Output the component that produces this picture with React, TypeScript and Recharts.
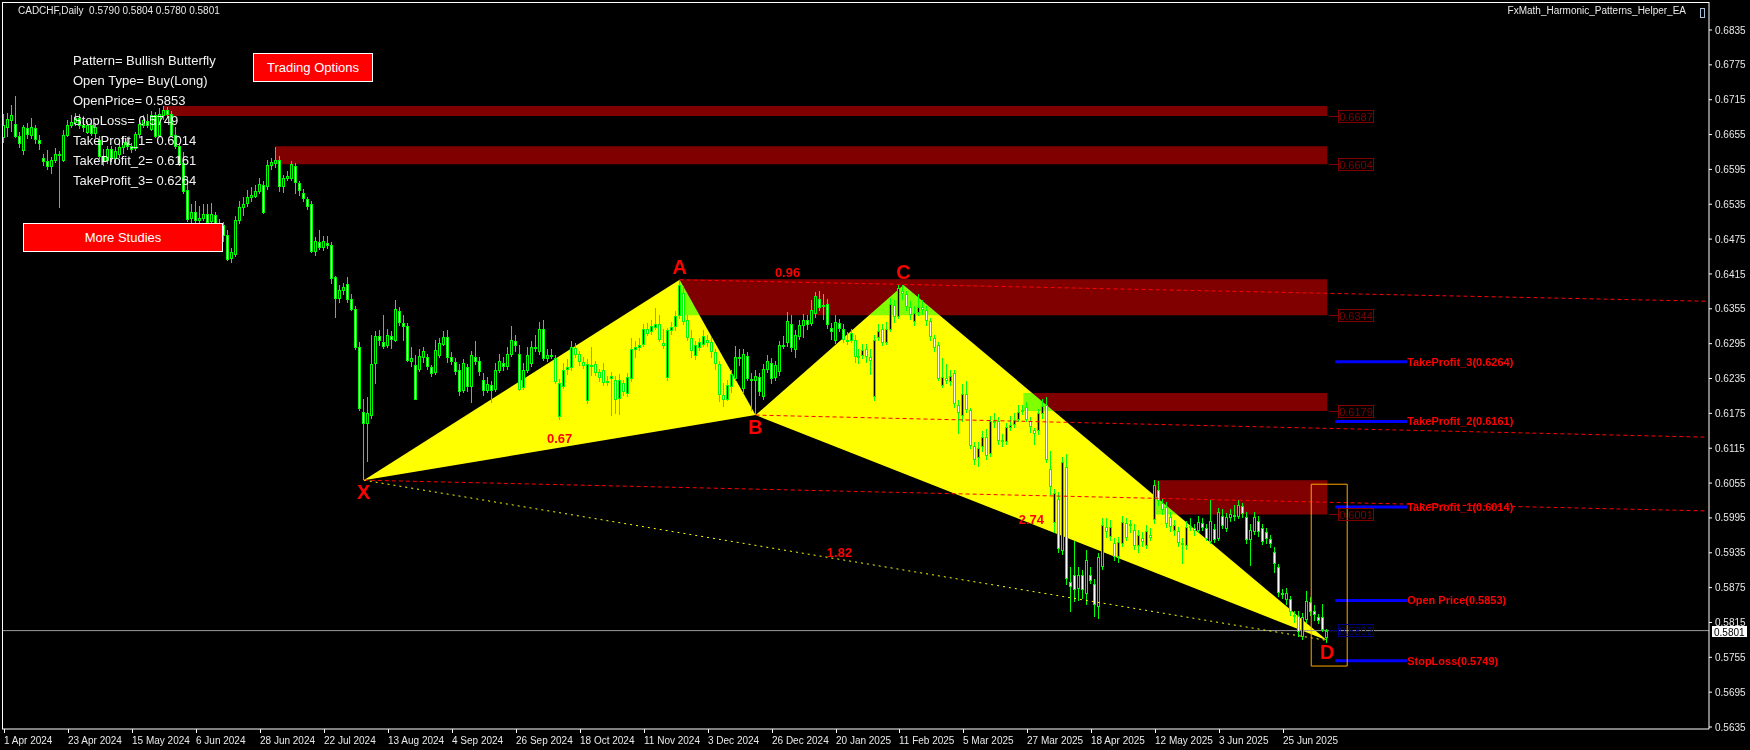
import React from "react";
import { ComposedChart, Bar, Scatter, XAxis, YAxis, ReferenceArea, ReferenceLine } from "recharts";

// CADCHF daily bars, prices in pips (x 0.0001)
const opens = [
  6650, 6668, 6680, 6674, 6652, 6628, 6666, 6655, 6666, 6645,
  6614, 6610, 6600, 6611, 6620, 6612, 6654, 6671, 6676, 6683,
  6672, 6660, 6672, 6658, 6646, 6618, 6611, 6630, 6615, 6622,
  6634, 6642, 6636, 6632, 6656, 6672, 6678, 6665, 6688, 6654,
  6688, 6697, 6690, 6655, 6636, 6606, 6560, 6512, 6522, 6508,
  6512, 6518, 6506, 6516, 6498, 6500, 6482, 6442, 6450, 6508,
  6530, 6537, 6547, 6550, 6558, 6568, 6566, 6603, 6606, 6611,
  6566, 6581, 6580, 6601, 6572, 6555, 6544, 6536, 6455, 6470,
  6462, 6468, 6465, 6410, 6373, 6387, 6398, 6372, 6355, 6290,
  6178, 6158, 6172, 6262, 6308, 6298, 6292, 6308, 6302, 6352,
  6330, 6325, 6266, 6258, 6252, 6272, 6272, 6254, 6247, 6276,
  6294, 6307, 6272, 6264, 6250, 6215, 6254, 6222, 6272, 6266,
  6232, 6215, 6224, 6217, 6250, 6262, 6256, 6278, 6300, 6278,
  6220, 6250, 6262, 6290, 6282, 6320, 6270, 6276, 6270, 6170,
  6222, 6252, 6254, 6288, 6277, 6264, 6198, 6259, 6260, 6246,
  6250, 6229, 6236, 6232, 6201, 6227, 6210, 6236, 6285, 6290,
  6294, 6320, 6317, 6324, 6328, 6296, 6238, 6318, 6325, 6344,
  6382, 6336, 6304, 6276, 6290, 6294, 6302, 6298, 6281, 6260,
  6206, 6199, 6222, 6236, 6272, 6218, 6273, 6235, 6232, 6238,
  6205, 6252, 6262, 6238, 6248, 6292, 6297, 6328, 6286, 6308,
  6327, 6336, 6331, 6348, 6372, 6360, 6364, 6322, 6302, 6330,
  6320, 6302, 6302, 6302, 6274, 6276, 6285, 6272, 6205, 6306,
  6320, 6298, 6321, 6362, 6342, 6386, 6380, 6358, 6334, 6350,
  6358, 6353, 6334, 6304, 6292, 6224, 6236, 6230, 6244, 6190,
  6173, 6208, 6180, 6118, 6100, 6118, 6135, 6106, 6162, 6162,
  6130, 6127, 6152, 6156, 6165, 6180, 6186, 6162, 6146, 6146,
  6175, 6189, 6080, 5988, 6027, 5940, 6082, 5885, 5896, 5874,
  5897, 5866, 5897, 5882, 5844, 5912, 5980, 5964, 5952, 5929,
  5952, 5986, 5982, 5974, 5949, 5960, 5948, 5966, 5993, 6043,
  6020, 6014, 5996, 5975, 5972, 5952, 5949, 5980, 5978, 5975,
  5986, 5977, 5956, 5976, 5960, 5998, 5978, 5996, 6000, 5998,
  6016, 5996, 5958, 5972, 5990, 5978, 5970, 5958, 5936, 5910,
  5866, 5855, 5855, 5828, 5826, 5791, 5821, 5851, 5834, 5825,
  5825, 5790,
];
const highs = [
  6690, 6692, 6706, 6722, 6660, 6672, 6675, 6683, 6672, 6655,
  6622, 6628, 6617, 6631, 6626, 6663, 6680, 6688, 6692, 6690,
  6680, 6678, 6680, 6675, 6652, 6630, 6636, 6635, 6634, 6640,
  6650, 6650, 6640, 6660, 6680, 6688, 6690, 6695, 6693, 6700,
  6704, 6703, 6695, 6668, 6640, 6625, 6582, 6535, 6540, 6532,
  6535, 6535, 6538, 6522, 6510, 6505, 6490, 6460, 6515, 6540,
  6548, 6560, 6565, 6568, 6580, 6575, 6612, 6615, 6634, 6618,
  6586, 6592, 6610, 6606, 6575, 6562, 6548, 6540, 6478, 6490,
  6480, 6480, 6470, 6412, 6396, 6400, 6410, 6380, 6360, 6298,
  6200, 6204, 6310, 6316, 6318, 6344, 6320, 6316, 6370, 6358,
  6345, 6330, 6290, 6275, 6285, 6290, 6278, 6258, 6302, 6305,
  6316, 6318, 6280, 6270, 6260, 6268, 6260, 6282, 6300, 6272,
  6245, 6238, 6230, 6262, 6278, 6272, 6290, 6325, 6310, 6292,
  6262, 6290, 6300, 6310, 6332, 6335, 6285, 6285, 6276, 6235,
  6262, 6268, 6300, 6296, 6283, 6272, 6268, 6290, 6266, 6252,
  6262, 6240, 6246, 6240, 6242, 6232, 6245, 6305, 6300, 6305,
  6328, 6330, 6335, 6356, 6345, 6320, 6322, 6332, 6352, 6405,
  6395, 6345, 6318, 6300, 6305, 6318, 6310, 6306, 6286, 6266,
  6228, 6232, 6250, 6291, 6285, 6285, 6280, 6245, 6250, 6244,
  6260, 6276, 6270, 6265, 6300, 6308, 6350, 6345, 6318, 6335,
  6346, 6345, 6370, 6384, 6385, 6380, 6372, 6330, 6345, 6338,
  6328, 6315, 6320, 6310, 6285, 6295, 6295, 6285, 6310, 6328,
  6328, 6332, 6374, 6370, 6396, 6396, 6385, 6368, 6360, 6380,
  6370, 6360, 6340, 6310, 6298, 6270, 6260, 6250, 6250, 6198,
  6225, 6230, 6185, 6125, 6125, 6145, 6148, 6170, 6175, 6168,
  6140, 6158, 6170, 6175, 6190, 6190, 6195, 6168, 6150, 6182,
  6200, 6204, 6110, 6045, 6040, 6100, 6105, 5910, 5955, 5910,
  5905, 5940, 5910, 5890, 5935, 5995, 5995, 5992, 5960, 5962,
  5998, 5995, 5992, 5985, 5975, 5970, 5982, 5978, 6060, 6058,
  6030, 6022, 6005, 5992, 5980, 5960, 5990, 5995, 5985, 5998,
  5995, 5985, 6025, 5985, 6012, 6010, 6003, 6010, 6018, 6025,
  6020, 6005, 5985, 6005, 5998, 5985, 5978, 5965, 5945, 5916,
  5872, 5875, 5860, 5835, 5835, 5832, 5870, 5858, 5845, 5830,
  5846, 5804,
];
const lows = [
  6640, 6650, 6660, 6650, 6632, 6620, 6648, 6646, 6640, 6630,
  6602, 6594, 6588, 6605, 6528, 6608, 6650, 6665, 6670, 6665,
  6660, 6655, 6652, 6650, 6612, 6600, 6605, 6608, 6606, 6615,
  6620, 6628, 6622, 6628, 6650, 6665, 6666, 6660, 6648, 6650,
  6680, 6684, 6650, 6630, 6600, 6552, 6505, 6500, 6500, 6498,
  6505, 6498, 6500, 6490, 6488, 6470, 6436, 6435, 6445, 6500,
  6515, 6530, 6540, 6545, 6552, 6518, 6560, 6595, 6598, 6556,
  6555, 6575, 6575, 6553, 6550, 6540, 6525, 6450, 6445, 6455,
  6455, 6458, 6398, 6340, 6365, 6380, 6366, 6350, 6285, 6180,
  6060, 6092, 6165, 6224, 6290, 6285, 6288, 6285, 6298, 6325,
  6300, 6262, 6255, 6197, 6245, 6262, 6250, 6238, 6242, 6270,
  6290, 6262, 6258, 6240, 6205, 6210, 6212, 6192, 6258, 6240,
  6205, 6210, 6192, 6212, 6245, 6248, 6250, 6272, 6280, 6212,
  6215, 6245, 6256, 6280, 6275, 6265, 6262, 6268, 6226, 6165,
  6218, 6240, 6248, 6270, 6258, 6252, 6190, 6240, 6240, 6230,
  6222, 6222, 6170, 6175, 6172, 6205, 6203, 6230, 6270, 6282,
  6288, 6308, 6310, 6318, 6298, 6285, 6230, 6310, 6318, 6338,
  6328, 6300, 6270, 6268, 6282, 6288, 6290, 6270, 6250, 6195,
  6186, 6195, 6210, 6230, 6255, 6210, 6230, 6180, 6172, 6205,
  6198, 6245, 6225, 6230, 6240, 6285, 6290, 6282, 6270, 6300,
  6305, 6320, 6325, 6340, 6350, 6335, 6320, 6300, 6295, 6315,
  6295, 6292, 6296, 6262, 6260, 6270, 6262, 6240, 6196, 6298,
  6290, 6292, 6315, 6330, 6338, 6370, 6350, 6335, 6325, 6342,
  6345, 6325, 6300, 6280, 6230, 6218, 6225, 6222, 6185, 6140,
  6160, 6175, 6115, 6085, 6082, 6108, 6095, 6100, 6150, 6120,
  6118, 6120, 6145, 6150, 6160, 6172, 6160, 6140, 6120, 6138,
  6165, 6090, 6035, 5970, 5935, 5932, 5880, 5832, 5850, 5852,
  5855, 5845, 5880, 5825, 5822, 5905, 5960, 5955, 5920, 5918,
  5945, 5955, 5970, 5940, 5935, 5945, 5940, 5955, 5985, 6015,
  6000, 5978, 5970, 5965, 5945, 5915, 5940, 5972, 5965, 5968,
  5972, 5955, 5950, 5952, 5955, 5975, 5970, 5988, 5990, 5992,
  5995, 5950, 5912, 5965, 5962, 5948, 5950, 5942, 5900, 5860,
  5855, 5845, 5826, 5815, 5790, 5785, 5815, 5825, 5818, 5812,
  5798, 5780,
];
const closes = [
  6672, 6682, 6688, 6652, 6640, 6668, 6656, 6668, 6647, 6640,
  6609, 6600, 6611, 6622, 6622, 6654, 6671, 6677, 6683, 6672,
  6668, 6671, 6658, 6668, 6618, 6610, 6630, 6615, 6627, 6634,
  6642, 6636, 6630, 6656, 6673, 6680, 6672, 6688, 6652, 6690,
  6697, 6690, 6655, 6636, 6606, 6558, 6510, 6522, 6508, 6512,
  6518, 6505, 6518, 6498, 6500, 6482, 6440, 6452, 6508, 6530,
  6536, 6548, 6551, 6557, 6570, 6522, 6603, 6607, 6612, 6566,
  6580, 6584, 6604, 6573, 6560, 6546, 6532, 6454, 6472, 6462,
  6472, 6465, 6408, 6373, 6387, 6392, 6372, 6354, 6290, 6185,
  6158, 6176, 6260, 6308, 6301, 6291, 6310, 6303, 6354, 6332,
  6325, 6267, 6270, 6200, 6273, 6282, 6256, 6245, 6284, 6296,
  6306, 6272, 6265, 6248, 6213, 6262, 6222, 6276, 6265, 6248,
  6215, 6226, 6216, 6250, 6266, 6256, 6278, 6302, 6292, 6217,
  6250, 6275, 6290, 6288, 6320, 6271, 6276, 6274, 6230, 6228,
  6250, 6254, 6290, 6278, 6265, 6259, 6260, 6257, 6246, 6237,
  6229, 6231, 6240, 6200, 6233, 6214, 6238, 6285, 6290, 6292,
  6320, 6314, 6325, 6328, 6303, 6292, 6318, 6323, 6342, 6396,
  6334, 6306, 6284, 6292, 6297, 6308, 6298, 6282, 6262, 6208,
  6200, 6224, 6243, 6272, 6270, 6277, 6236, 6232, 6240, 6214,
  6252, 6266, 6236, 6258, 6292, 6293, 6334, 6290, 6310, 6327,
  6336, 6328, 6353, 6377, 6358, 6362, 6328, 6317, 6332, 6322,
  6303, 6300, 6313, 6273, 6273, 6284, 6273, 6267, 6302, 6316,
  6298, 6320, 6364, 6342, 6390, 6383, 6360, 6346, 6348, 6358,
  6354, 6336, 6308, 6290, 6236, 6238, 6232, 6240, 6193, 6178,
  6208, 6182, 6120, 6097, 6115, 6135, 6104, 6162, 6160, 6130,
  6127, 6151, 6155, 6163, 6178, 6181, 6166, 6153, 6141, 6176,
  6188, 6096, 6050, 6038, 5943, 6092, 5892, 5878, 5872, 5897,
  5872, 5922, 5888, 5846, 5928, 5982, 5972, 5979, 5929, 5953,
  5988, 5962, 5985, 5948, 5965, 5955, 5973, 5963, 6052, 6025,
  6010, 5987, 5981, 5983, 5953, 5950, 5980, 5981, 5974, 5988,
  5980, 5961, 5989, 5959, 6005, 5982, 5996, 6002, 5998, 6018,
  6003, 5959, 5974, 5996, 5972, 5955, 5961, 5951, 5918, 5867,
  5865, 5866, 5834, 5826, 5800, 5825, 5852, 5834, 5829, 5819,
  5804, 5801,
];

const dateTickIdx = [0, 16, 32, 48, 64, 80, 96, 112, 128, 144, 160, 176, 192, 208, 224, 240, 256, 272, 288, 304, 320];
const dateLabels = [
  "1 Apr 2024", "23 Apr 2024", "15 May 2024", "6 Jun 2024", "28 Jun 2024", "22 Jul 2024", "13 Aug 2024",
  "4 Sep 2024", "26 Sep 2024", "18 Oct 2024", "11 Nov 2024", "3 Dec 2024", "26 Dec 2024", "20 Jan 2025",
  "11 Feb 2025", "5 Mar 2025", "27 Mar 2025", "18 Apr 2025", "12 May 2025", "3 Jun 2025", "25 Jun 2025",
];
const priceTicks = [
  0.5635, 0.5695, 0.5755, 0.5815, 0.5875, 0.5935, 0.5995, 0.6055, 0.6115, 0.6175, 0.6235,
  0.6295, 0.6355, 0.6415, 0.6475, 0.6535, 0.6595, 0.6655, 0.6715, 0.6775, 0.6835,
];

// harmonic pattern
const xabPoints = [{ i: 90, p: 0.606 }, { i: 169, p: 0.6405 }, { i: 188, p: 0.6172 }];
const bcdPoints = [{ i: 188, p: 0.6172 }, { i: 225, p: 0.6396 }, { i: 331, p: 0.5784 }];
const pointNames = [
  { t: "X", i: 90, p: 0.606, up: false },
  { t: "A", i: 169, p: 0.6405, up: true },
  { t: "B", i: 188, p: 0.6172, up: false },
  { t: "C", i: 225, p: 0.6396, up: true },
  { t: "D", i: 331, p: 0.5784, up: false },
];
const ratioLabels = [
  { t: "0.67", i: 139, p: 0.6131 },
  { t: "0.96", i: 196, p: 0.6417 },
  { t: "1.82", i: 209, p: 0.5935 },
  { t: "2.74", i: 257, p: 0.5993 },
];
const redRays = [
  [{ i: 169, p: 0.6405 }, { i: 426, p: 0.6368 }],
  [{ i: 188, p: 0.6172 }, { i: 426, p: 0.6134 }],
  [{ i: 90, p: 0.606 }, { i: 426, p: 0.6007 }],
];
const xdLine = [{ i: 90, p: 0.606 }, { i: 331, p: 0.5784 }];

// supply zones
const zones = [
  { from: 40, to: 331, top: 0.6704, bottom: 0.6687 },
  { from: 68, to: 331, top: 0.6635, bottom: 0.6604 },
  { from: 169, to: 331, top: 0.6406, bottom: 0.6344 },
  { from: 255, to: 331, top: 0.621, bottom: 0.6179 },
  { from: 288, to: 331, top: 0.606, bottom: 0.6001 },
];
const zoneTags = zones.map((z) => ({ i: z.to, p: z.bottom }));
const dTag = [{ i: 331, p: 0.5802 }];

const tpLevels = [
  { name: "TakeProfit_3", p: 0.6264 },
  { name: "TakeProfit_2", p: 0.6161 },
  { name: "TakeProfit_1", p: 0.6014 },
  { name: "Open Price", p: 0.5853 },
  { name: "StopLoss", p: 0.5749 },
];
const tpStart = 333;
const tpEnd = 351;
const tpTexts = tpLevels.map((l) => ({ i: tpEnd, p: l.p, t: `${l.name}(${l.p.toFixed(4)})` }));
const entryBox = { x1: 327, x2: 336, y1: 0.574, y2: 0.6053 };

const lastBar = { o: 0.579, h: 0.5804, l: 0.578, c: 0.5801 };
const lastTag = [{ i: 426.5, p: lastBar.c }];

const infoLines = [
  "Pattern= Bullish Butterfly",
  "Open Type= Buy(Long)",
  "OpenPrice= 0.5853",
  "StopLoss= 0.5749",
  "TakeProfit_1= 0.6014",
  "TakeProfit_2= 0.6161",
  "TakeProfit_3= 0.6264",
];

const candles = opens.map((o, k) => ({
  i: k,
  o: o / 1e4,
  h: highs[k] / 1e4,
  l: lows[k] / 1e4,
  c: closes[k] / 1e4,
  range: [lows[k] / 1e4, highs[k] / 1e4],
}));

const FONT = "'Liberation Sans', Arial, sans-serif";
const RED = "#ff0000";
const MAROON = "#800000";

const Candle = (props: any) => {
  const { x, y, width, height, payload } = props;
  if (!payload || x == null || y == null || payload.o == null) return null;
  const top = Math.min(y, y + height);
  const span = Math.abs(height);
  const { o, h, l, c } = payload;
  const toY = (v: number) => (h === l ? top : top + ((h - v) / (h - l)) * span);
  const cx = Math.round(x + width / 2 - 0.5);
  const bTop = Math.round(toY(Math.max(o, c)));
  const bBot = Math.round(toY(Math.min(o, c)));
  const bh = Math.max(1, bBot - bTop);
  return (
    <g>
      <rect x={cx} y={Math.round(top)} width={1} height={Math.max(1, Math.round(span))} fill="#00ff00" />
      <rect x={cx - 1} y={bTop} width={3} height={bh + 1} fill="#00ff00" />
      {bh > 1 && <rect x={cx} y={bTop + 1} width={1} height={bh - 1} fill={c >= o ? "#000000" : "#ffffff"} />}
    </g>
  );
};

const Nothing = () => <g />;

const Triangle = (lp: any) => {
  const pts = (lp.points || []).map((q: any) => `${q.x},${q.y}`).join(" ");
  return <polygon points={pts} fill="#ffff00" stroke="none" style={{ mixBlendMode: "difference" }} />;
};

const PointName = (p: any) => (
  <text x={p.cx} y={p.cy + (p.payload.up ? -13 : 12)} textAnchor="middle" dominantBaseline="central"
    fill={RED} fontSize={20} fontWeight="bold" fontFamily={FONT}>{p.payload.t}</text>
);

const RatioText = (p: any) => (
  <text x={p.cx} y={p.cy} textAnchor="middle" dominantBaseline="central"
    fill={RED} fontSize={13} fontWeight="bold" fontFamily={FONT}>{p.payload.t}</text>
);

const TpText = (p: any) => (
  <text x={p.cx} y={p.cy} textAnchor="start" dominantBaseline="central"
    fill={RED} fontSize={11} fontWeight="bold" fontFamily={FONT}>{p.payload.t}</text>
);

const makeTag = (color: string) => (p: any) => {
  const x0 = Math.round(p.cx) + 2;
  const y0 = Math.round(p.cy);
  return (
    <g>
      <line x1={x0} x2={x0 + 9} y1={y0 + 0.5} y2={y0 + 0.5} stroke={color} />
      <rect x={x0 + 9.5} y={y0 - 5.5} width={35} height={12} fill="none" stroke={color} />
      <text x={x0 + 27} y={y0 + 1} textAnchor="middle" dominantBaseline="central" fill={color}
        fontSize={11} fontFamily={FONT}>{p.payload.p.toFixed(4)}</text>
    </g>
  );
};
const ZoneTag = makeTag(MAROON);
const DTag = makeTag("#000080");

const PriceTag = (p: any) => (
  <g>
    <rect x={Math.round(p.cx) + 3} y={Math.round(p.cy) - 5} width={35} height={11} fill="#ffffff" />
    <text x={Math.round(p.cx) + 5} y={Math.round(p.cy) + 1} dominantBaseline="central" fill="#000000"
      fontSize={10} fontFamily={FONT}>{p.payload.p.toFixed(4)}</text>
  </g>
);

const DateTick = (p: any) => {
  const k = dateTickIdx.indexOf(p.payload?.value);
  if (k < 0) return null;
  const x = Math.round(p.x);
  return (
    <g>
      <line x1={x + 0.5} x2={x + 0.5} y1={p.y - 6} y2={p.y - 2} stroke="#ffffff" />
      <text x={x} y={p.y + 9} textAnchor="start" fill="#e8e8e8" fontSize={10} fontFamily={FONT}>
        {dateLabels[k]}
      </text>
    </g>
  );
};

const button: React.CSSProperties = {
  position: "absolute",
  background: "#ff0000",
  border: "1px solid #ffffff",
  color: "#ffffff",
  fontFamily: FONT,
  fontSize: 13,
  display: "flex",
  alignItems: "center",
  justifyContent: "center",
  boxSizing: "border-box",
};

export default function App() {
  return (
    <div style={{ position: "fixed", left: 0, top: 0, width: 1750, height: 750, background: "#000000", overflow: "hidden" }}>
      <ComposedChart width={1750} height={750} data={candles} margin={{ top: 2, right: 2, bottom: 2, left: 2 }}>
        <XAxis
          dataKey="i"
          type="number"
          domain={[-0.5, 426.5]}
          ticks={dateTickIdx}
          interval={0}
          height={19}
          axisLine={{ stroke: "#ffffff" }}
          tickLine={false}
          tickSize={4}
          tickMargin={2}
          tick={<DateTick />}
        />
        <YAxis
          orientation="right"
          type="number"
          domain={[0.56316, 0.68832]}
          ticks={priceTicks}
          interval={0}
          width={39}
          axisLine={{ stroke: "#ffffff" }}
          tickLine={{ stroke: "#ffffff" }}
          tickSize={3}
          tickMargin={3}
          tick={{ fill: "#e8e8e8", fontSize: 10, fontFamily: FONT }}
          tickFormatter={(v: number) => v.toFixed(4)}
        />

        {zones.map((z, k) => (
          <ReferenceArea key={`z${k}`} x1={z.from} x2={z.to} y1={z.bottom} y2={z.top}
            fill={MAROON} fillOpacity={1} stroke="none" ifOverflow="visible" zIndex={110} />
        ))}

        <Scatter data={xabPoints} dataKey="p" shape={Nothing} line={Triangle} lineType="joint"
          isAnimationActive={false} zIndex={120} />
        <Scatter data={bcdPoints} dataKey="p" shape={Nothing} line={Triangle} lineType="joint"
          isAnimationActive={false} zIndex={120} />

        <ReferenceLine y={lastBar.c} stroke="#9a9a9a" ifOverflow="visible" zIndex={125} />

        <Bar dataKey="range" barSize={3} shape={Candle} isAnimationActive={false} zIndex={130} />

        {redRays.map((r, k) => (
          <ReferenceLine key={`r${k}`} segment={[{ x: r[0].i, y: r[0].p }, { x: r[1].i, y: r[1].p }]}
            stroke={RED} strokeDasharray="4 3" ifOverflow="visible" zIndex={140} />
        ))}
        <ReferenceLine segment={[{ x: xdLine[0].i, y: xdLine[0].p }, { x: xdLine[1].i, y: xdLine[1].p }]}
          stroke="#ffff00" strokeDasharray="2 4" ifOverflow="visible" zIndex={140} />

        {tpLevels.map((l, k) => (
          <ReferenceLine key={`tp${k}`} segment={[{ x: tpStart, y: l.p }, { x: tpEnd, y: l.p }]}
            stroke="#0000ff" strokeWidth={3} ifOverflow="visible" zIndex={140} />
        ))}

        <ReferenceArea x1={entryBox.x1} x2={entryBox.x2} y1={entryBox.y1} y2={entryBox.y2}
          fill="none" fillOpacity={0} stroke="#ffa500" strokeWidth={1} ifOverflow="visible" zIndex={140} />

        <Scatter data={zoneTags} dataKey="p" shape={ZoneTag} isAnimationActive={false} zIndex={150} />
        <Scatter data={dTag} dataKey="p" shape={DTag} isAnimationActive={false} zIndex={150} />
        <Scatter data={tpTexts} dataKey="p" shape={TpText} isAnimationActive={false} zIndex={150} />
        <Scatter data={ratioLabels} dataKey="p" shape={RatioText} isAnimationActive={false} zIndex={150} />
        <Scatter data={pointNames} dataKey="p" shape={PointName} isAnimationActive={false} zIndex={150} />
        <Scatter data={lastTag} dataKey="p" shape={PriceTag} isAnimationActive={false} zIndex={150} />
      </ComposedChart>

      {/* chart frame top / left */}
      <div style={{ position: "absolute", left: 2, top: 2, width: 1707, height: 1, background: "#ffffff" }} />
      <div style={{ position: "absolute", left: 2, top: 2, width: 1, height: 727, background: "#ffffff" }} />

      <div style={{ position: "absolute", left: 18, top: 5, color: "#e8e8e8", fontFamily: FONT, fontSize: 10, whiteSpace: "pre" }}>
        {`CADCHF,Daily  ${lastBar.o.toFixed(4)} ${lastBar.h.toFixed(4)} ${lastBar.l.toFixed(4)} ${lastBar.c.toFixed(4)}`}
      </div>
      <div style={{ position: "absolute", right: 64, top: 5, color: "#e8e8e8", fontFamily: FONT, fontSize: 10 }}>
        FxMath_Harmonic_Patterns_Helper_EA
      </div>
      <div style={{ position: "absolute", left: 1700, top: 8, width: 3, height: 8, border: "1px solid #a8c0d8" }} />

      <div style={{ position: "absolute", left: 73, top: 51, color: "#f2f2f2", fontFamily: FONT, fontSize: 13, lineHeight: "20px" }}>
        {infoLines.map((t) => (
          <div key={t}>{t}</div>
        ))}
      </div>
      <div style={{ ...button, left: 253, top: 53, width: 120, height: 29 }}>Trading Options</div>
      <div style={{ ...button, left: 23, top: 223, width: 200, height: 29 }}>More Studies</div>
    </div>
  );
}
